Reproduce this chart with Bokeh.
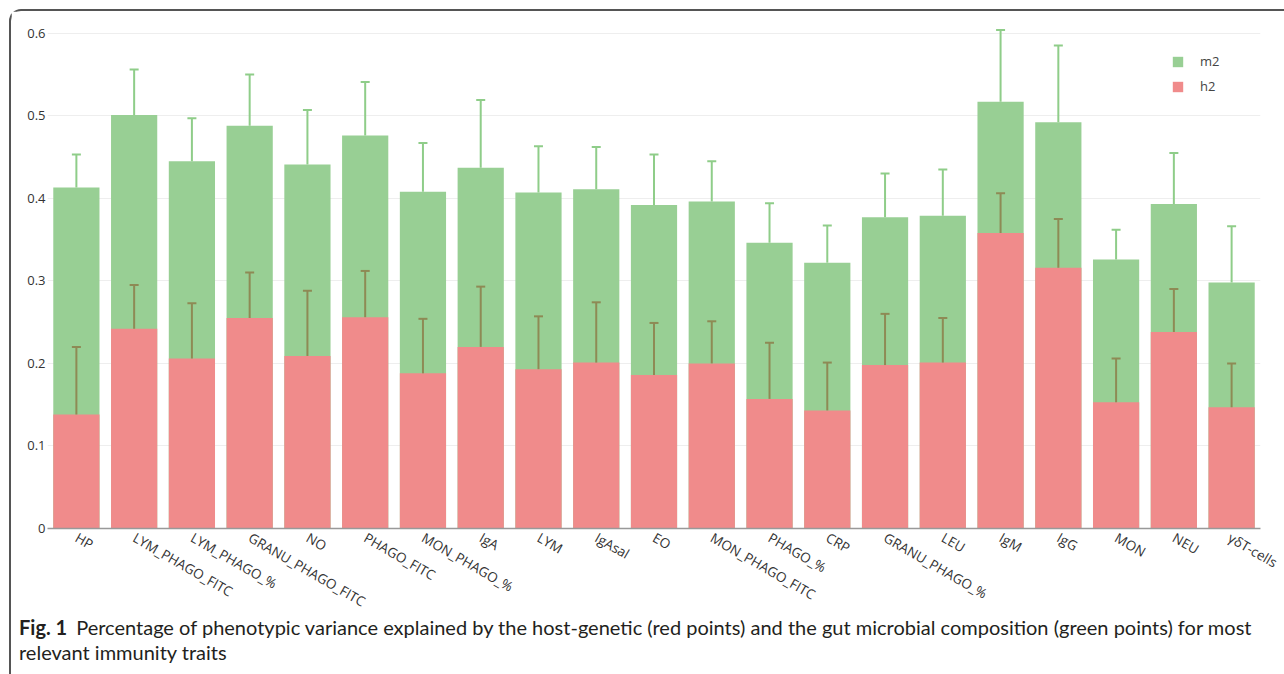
import math
from bokeh.plotting import figure
from bokeh.layouts import column
from bokeh.models import (FactorRange, Range1d, FixedTicker, CustomJSTickFormatter,
                          Legend, LegendItem, Div)
from bokeh.embed import file_html
from bokeh.resources import INLINE

traits = ["HP", "LYM_PHAGO_FITC", "LYM_PHAGO_%", "GRANU_PHAGO_FITC", "NO", "PHAGO_FITC",
          "MON_PHAGO_%", "IgA", "LYM", "IgAsal", "EO", "MON_PHAGO_FITC", "PHAGO_%", "CRP",
          "GRANU_PHAGO_%", "LEU", "IgM", "IgG", "MON", "NEU", "γδT-cells"]
m2 = [0.413, 0.501, 0.445, 0.488, 0.441, 0.476, 0.408, 0.437, 0.407, 0.411, 0.392,
      0.396, 0.346, 0.322, 0.377, 0.379, 0.517, 0.492, 0.326, 0.393, 0.298]
m2_upper = [0.453, 0.556, 0.497, 0.550, 0.507, 0.541, 0.467, 0.519, 0.463, 0.462, 0.453,
            0.445, 0.394, 0.367, 0.430, 0.435, 0.604, 0.585, 0.362, 0.455, 0.366]
h2 = [0.138, 0.242, 0.206, 0.255, 0.209, 0.256, 0.188, 0.220, 0.193, 0.201, 0.186,
      0.200, 0.157, 0.143, 0.198, 0.201, 0.358, 0.316, 0.153, 0.238, 0.147]
h2_upper = [0.220, 0.295, 0.273, 0.310, 0.288, 0.312, 0.254, 0.293, 0.257, 0.274, 0.249,
            0.251, 0.225, 0.201, 0.260, 0.255, 0.406, 0.375, 0.206, 0.290, 0.200]
y_ticks = [0, 0.1, 0.2, 0.3, 0.4, 0.5, 0.6]
series_labels = ["m2", "h2"]
caption_bold = "Fig. 1"
caption_line1 = ("Percentage of phenotypic variance explained by the host-genetic (red points) "
                 "and the gut microbial composition (green points) for most")
caption_line2 = "relevant immunity traits"

GREEN = "#98cf94"
RED = "#f08b8b"
GREEN_ERR = "#8fcd89"
RED_ERR = "#8e8a55"
TICK_FONT = "Open Sans"
CAP_FONT = "Lato"
CAP_COLOR = "#231f20"

# page geometry (the layout starts at 9px + 2px border)
ORIGIN = 11
W, H = 1269, 610
FRAME_L, FRAME_R, FRAME_T, FRAME_B = 47, 1260, 17, 528
Y_TOP = 0.619

p = figure(x_range=FactorRange(factors=traits, range_padding=0),
           y_range=Range1d(0, Y_TOP),
           width=W, height=H, output_backend="svg", toolbar_location=None,
           min_border_left=FRAME_L - ORIGIN, min_border_right=ORIGIN + W - FRAME_R,
           min_border_top=FRAME_T - ORIGIN, min_border_bottom=ORIGIN + H - FRAME_B,
           outline_line_color=None, background_fill_color="white", border_fill_color="white")

r_m2 = p.vbar(x=traits, top=m2, width=0.8, fill_color=GREEN, line_color=None)
r_h2 = p.vbar(x=traits, top=h2, width=0.8, fill_color=RED, line_color=None)

p.segment(x0=traits, y0=m2, x1=traits, y1=m2_upper, line_color=GREEN_ERR, line_width=2)
p.scatter(x=traits, y=m2_upper, marker="dash", size=9, line_color=GREEN_ERR, line_width=2)
p.segment(x0=traits, y0=h2, x1=traits, y1=h2_upper, line_color=RED_ERR, line_width=2)
p.scatter(x=traits, y=h2_upper, marker="dash", size=9, line_color=RED_ERR, line_width=2)

legend = Legend(items=[LegendItem(label=series_labels[0], renderers=[r_m2]),
                       LegendItem(label=series_labels[1], renderers=[r_h2])],
                location=(1124, 433), glyph_width=13, glyph_height=13, label_height=13,
                spacing=7, padding=5, label_standoff=16, border_line_color=None,
                background_fill_alpha=0, label_text_font=TICK_FONT,
                label_text_font_size="13px", label_text_color="#444444")
p.add_layout(legend)

p.xgrid.visible = False
p.ygrid.ticker = FixedTicker(ticks=y_ticks)
p.ygrid.grid_line_color = "#eeeeee"
p.ygrid.grid_line_width = 1

p.yaxis.ticker = FixedTicker(ticks=y_ticks)
p.yaxis.formatter = CustomJSTickFormatter(code="return tick == 0 ? '0' : tick.toFixed(1);")
p.yaxis.axis_line_color = None
p.yaxis.major_tick_line_color = None
p.yaxis.minor_tick_line_color = None
p.yaxis.major_tick_out = 0
p.yaxis.minor_tick_out = 0
p.yaxis.major_label_standoff = 2
p.yaxis.major_label_text_font = TICK_FONT
p.yaxis.major_label_text_font_size = "13px"
p.yaxis.major_label_text_color = "#333333"

p.xaxis.axis_line_color = "#999999"
p.xaxis.axis_line_width = 1.5
p.xaxis.major_tick_line_color = None
p.xaxis.major_tick_out = 0
p.xaxis.major_label_standoff = 8
p.xaxis.major_label_orientation = -math.radians(30)
p.xaxis.major_label_text_font = TICK_FONT
p.xaxis.major_label_text_font_size = "13.5px"
p.xaxis.major_label_text_color = "#333333"

caption_html = (
    f"<div style=\"font-family:'{CAP_FONT}',sans-serif;font-size:20px;line-height:25px;"
    f"color:{CAP_COLOR};white-space:nowrap;padding:0;margin:0;"
    f"position:relative;top:-11px;left:3px;\">"
    f"<b style=\"margin-right:9px;\">{caption_bold}</b>{caption_line1}<br>{caption_line2}</div>"
)
caption = Div(text=caption_html, width=W, height=50)

layout = column(p, caption, spacing=0,
                styles={"margin-left": "9px", "margin-top": "9px",
                        "border-left": "2px solid #555555",
                        "border-top": "2px solid #555555",
                        "border-top-left-radius": "12px"})

open("out.html", "w").write(file_html(layout, INLINE))
